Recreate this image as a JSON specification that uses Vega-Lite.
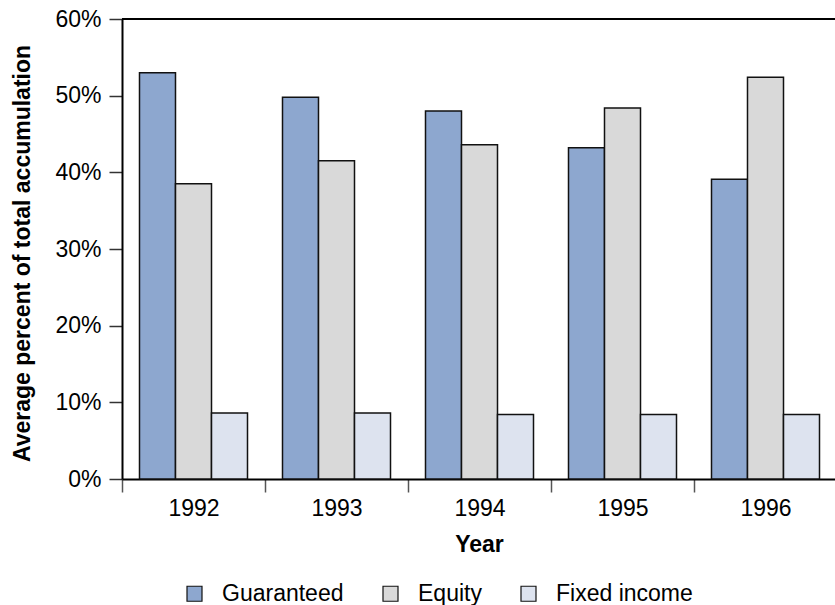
{
  "$schema": "https://vega.github.io/schema/vega-lite/v6.json",
  "width": 715,
  "height": 460,
  "autosize": "none",
  "padding": {"left": 122, "top": 19, "right": 0, "bottom": 126},
  "background": "white",
  "config": {
    "view": {"stroke": null},
    "font": "Liberation Sans",
    "axis": {"labelFont": "Liberation Sans", "titleFont": "Liberation Sans", "labelColor": "#000", "titleColor": "#000"}
  },
  "data": {
    "values": [
      {"year": "1992", "type": "Guaranteed", "value": 53.0},
      {"year": "1992", "type": "Equity", "value": 38.5},
      {"year": "1992", "type": "Fixed income", "value": 8.6},
      {"year": "1993", "type": "Guaranteed", "value": 49.8},
      {"year": "1993", "type": "Equity", "value": 41.5},
      {"year": "1993", "type": "Fixed income", "value": 8.6},
      {"year": "1994", "type": "Guaranteed", "value": 48.0},
      {"year": "1994", "type": "Equity", "value": 43.6},
      {"year": "1994", "type": "Fixed income", "value": 8.4},
      {"year": "1995", "type": "Guaranteed", "value": 43.2},
      {"year": "1995", "type": "Equity", "value": 48.4},
      {"year": "1995", "type": "Fixed income", "value": 8.4},
      {"year": "1996", "type": "Guaranteed", "value": 39.1},
      {"year": "1996", "type": "Equity", "value": 52.4},
      {"year": "1996", "type": "Fixed income", "value": 8.4}
    ]
  },
  "layer": [
    {
      "mark": {"type": "bar", "stroke": "#111", "strokeWidth": 1.5},
      "encoding": {
        "x": {
          "field": "year",
          "type": "nominal",
          "scale": {"paddingInner": 0, "paddingOuter": 0},
          "axis": {
            "title": "Year",
            "titleFontSize": 23,
            "titleFontWeight": "bold",
            "titleX": 357,
            "titleY": 65,
            "titleBaseline": "middle",
            "labelAngle": 0,
            "labelFontSize": 23,
            "labelPadding": 5,
            "tickBand": "extent",
            "tickSize": 13,
            "tickColor": "#555",
            "tickWidth": 1.5,
            "domainColor": "#000",
            "domainWidth": 2
          }
        },
        "xOffset": {
          "field": "type",
          "type": "nominal",
          "sort": ["Guaranteed", "Equity", "Fixed income"],
          "scale": {"paddingInner": 0, "paddingOuter": 0.486}
        },
        "y": {
          "field": "value",
          "type": "quantitative",
          "scale": {"domain": [0, 60], "nice": false},
          "axis": {
            "title": "Average percent of total accumulation",
            "titleFontSize": 23,
            "titleFontWeight": "bold",
            "titleX": -100,
            "titleY": 234,
            "titleBaseline": "middle",
            "values": [0, 10, 20, 30, 40, 50, 60],
            "labelExpr": "datum.value + '%'",
            "labelFontSize": 23,
            "labelPadding": 8,
            "tickSize": 13,
            "tickColor": "#333",
            "tickWidth": 1.5,
            "domainColor": "#000",
            "domainWidth": 2,
            "grid": false
          }
        },
        "color": {
          "field": "type",
          "type": "nominal",
          "sort": ["Guaranteed", "Equity", "Fixed income"],
          "scale": {"domain": ["Guaranteed", "Equity", "Fixed income"], "range": ["#8DA7CF", "#D9D9D9", "#DDE3EF"]},
          "legend": {
            "title": null,
            "orient": "none",
            "legendX": 61,
            "legendY": 563,
            "direction": "horizontal",
            "symbolType": "square",
            "symbolSize": 225,
            "symbolStrokeColor": "#111",
            "symbolStrokeWidth": 1.2,
            "labelFontSize": 23,
            "labelFont": "Liberation Sans",
            "labelColor": "#000",
            "labelOffset": 16,
            "columnPadding": 35
          }
        }
      }
    },
    {
      "mark": {"type": "rule", "color": "#000", "strokeWidth": 2},
      "encoding": {"y": {"datum": 60}}
    }
  ]
}
